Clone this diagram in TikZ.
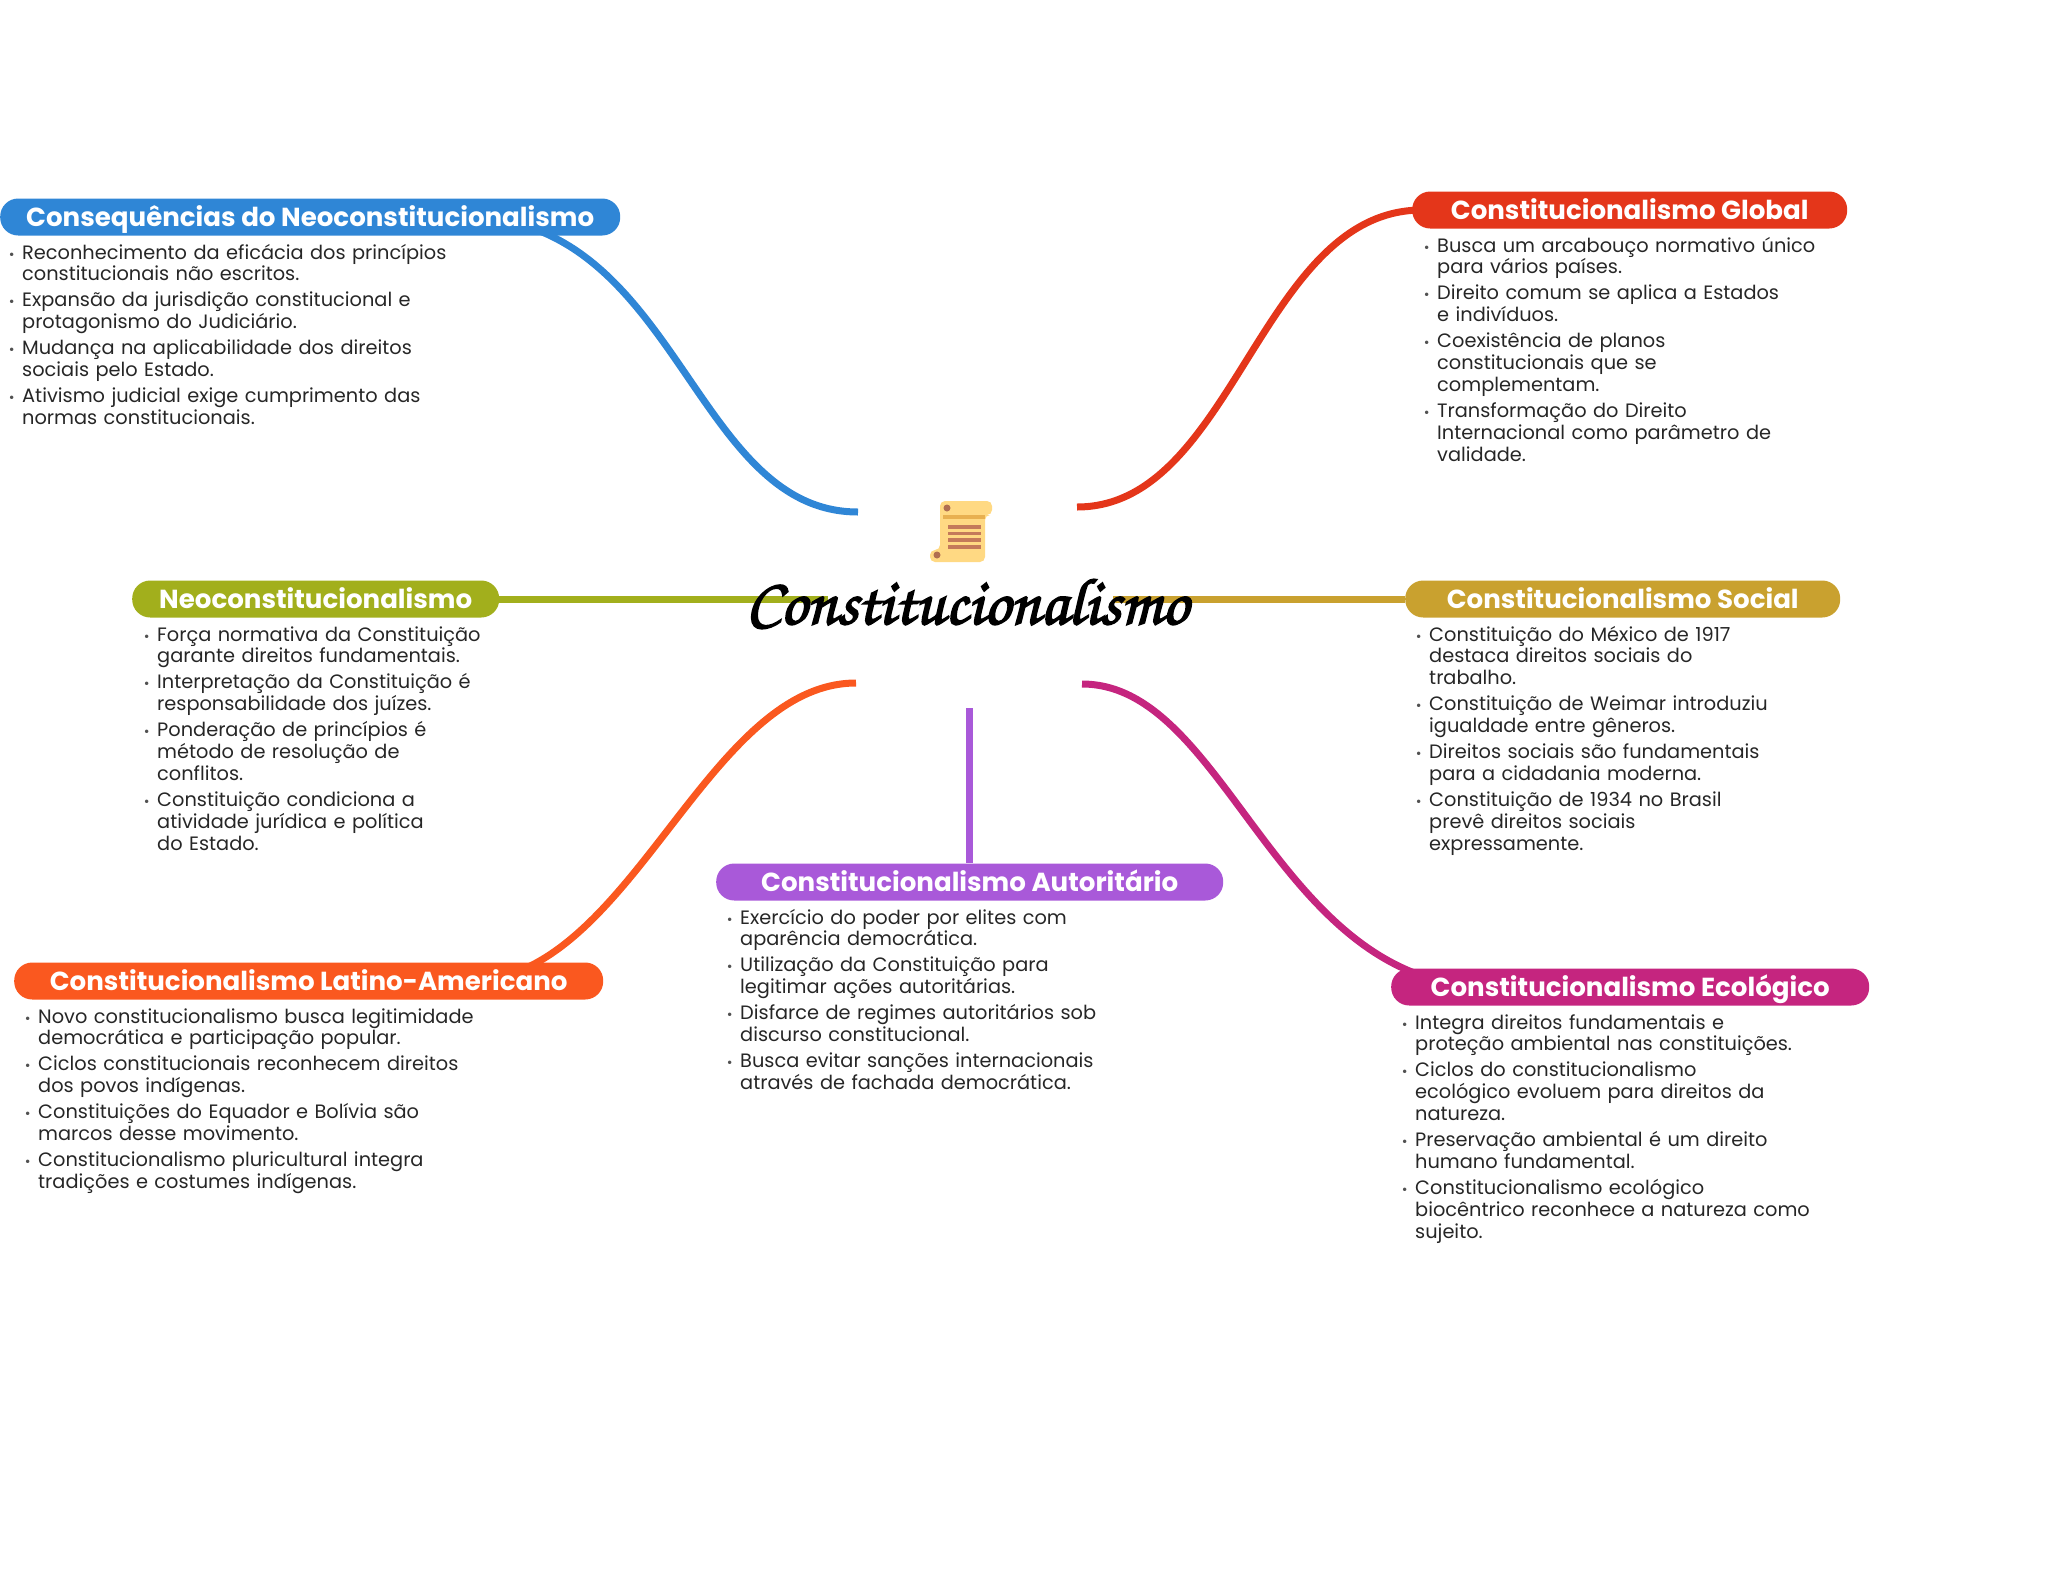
\documentclass[tikz,border=0pt]{standalone}
\usepackage{fontspec}
\usepackage{xcolor}
\usepackage{tikz}
\usetikzlibrary{positioning,calc,backgrounds}
\setmainfont{Poppins}
\newfontfamily\fonteScript[FakeBold=2.5]{TeX Gyre Chorus}
\definecolor{mapBlue}{HTML}{2F86D6}
\definecolor{mapRed}{HTML}{E4361A}
\definecolor{mapOlive}{HTML}{A2AF1C}
\definecolor{mapGold}{HTML}{C9A12F}
\definecolor{mapOrange}{HTML}{FA581F}
\definecolor{mapPurple}{HTML}{A959D9}
\definecolor{mapPink}{HTML}{C5257F}
\definecolor{mapText}{HTML}{262626}
\definecolor{scrollFill}{HTML}{FFD983}
\definecolor{scrollBand}{HTML}{E8B050}
\definecolor{scrollInk}{HTML}{C47A5A}
\newenvironment{pontos}{%
  \begin{list}{\llap{\fontsize{14}{14}\selectfont\color{mapText!80}•}}{%
    \setlength{\leftmargin}{0pt}\setlength{\labelwidth}{0pt}\setlength{\labelsep}{7.5pt}%
    \setlength{\itemsep}{4.3pt}\setlength{\parsep}{0pt}\setlength{\topsep}{0pt}%
    \setlength{\partopsep}{0pt}\setlength{\itemindent}{0pt}}%
}{\end{list}}

\begin{document}
\begin{tikzpicture}[
  x=1pt, y=-1pt,
  pill/.style={rounded corners=18pt, minimum height=37pt, inner sep=0pt, anchor=west,
    text height=24pt, text depth=6pt,
    text=white, font=\fontsize{26.1}{30}\bfseries\selectfont},
  corpo/.style={anchor=north west, inner sep=0pt, text width=640pt, align=left,
    text=mapText, font=\fontsize{19.35}{21.8}\selectfont},
  ramo/.style={line width=7pt},
]
\useasboundingbox (0,0) rectangle (2048,1569);
\foreach \nome/\px/\py/\larg/\cor/\titulo/\tx/\itens in {%
  consq/0/217/620/mapBlue/{Consequências do Neoconstitucionalismo}/22/{%
    \item Reconhecimento da eficácia dos princípios\newline constitucionais não escritos.
    \item Expansão da jurisdição constitucional e\newline protagonismo do Judiciário.
    \item Mudança na aplicabilidade dos direitos\newline sociais pelo Estado.
    \item Ativismo judicial exige cumprimento das\newline normas constitucionais.},
  global/1412/210/435/mapRed/{Constitucionalismo Global}/1437/{%
    \item Busca um arcabouço normativo único\newline para vários países.
    \item Direito comum se aplica a Estados\newline e indivíduos.
    \item Coexistência de planos\newline constitucionais que se\newline complementam.
    \item Transformação do Direito\newline Internacional como parâmetro de\newline validade.},
  neo/132/599/367/mapOlive/{Neoconstitucionalismo}/157/{%
    \item Força normativa da Constituição\newline garante direitos fundamentais.
    \item Interpretação da Constituição é\newline responsabilidade dos juízes.
    \item Ponderação de princípios é\newline método de resolução de\newline conflitos.
    \item Constituição condiciona a\newline atividade jurídica e política\newline do Estado.},
  social/1405/599/435/mapGold/{Constitucionalismo Social}/1429/{%
    \item Constituição do México de 1917\newline destaca direitos sociais do\newline trabalho.
    \item Constituição de Weimar introduziu\newline igualdade entre gêneros.
    \item Direitos sociais são fundamentais\newline para a cidadania moderna.
    \item Constituição de 1934 no Brasil\newline prevê direitos sociais\newline expressamente.},
  latino/14/981/589/mapOrange/{Constitucionalismo Latino-Americano}/38/{%
    \item Novo constitucionalismo busca legitimidade\newline democrática e participação popular.
    \item Ciclos constitucionais reconhecem direitos\newline dos povos indígenas.
    \item Constituições do Equador e Bolívia são\newline marcos desse movimento.
    \item Constitucionalismo pluricultural integra\newline tradições e costumes indígenas.},
  autor/716/882/507/mapPurple/{Constitucionalismo Autoritário}/740/{%
    \item Exercício do poder por elites com\newline aparência democrática.
    \item Utilização da Constituição para\newline legitimar ações autoritárias.
    \item Disfarce de regimes autoritários sob\newline discurso constitucional.
    \item Busca evitar sanções internacionais\newline através de fachada democrática.},
  ecol/1391/987/478/mapPink/{Constitucionalismo Ecológico}/1415/{%
    \item Integra direitos fundamentais e\newline proteção ambiental nas constituições.
    \item Ciclos do constitucionalismo\newline ecológico evoluem para direitos da\newline natureza.
    \item Preservação ambiental é um direito\newline humano fundamental.
    \item Constitucionalismo ecológico\newline biocêntrico reconhece a natureza como\newline sujeito.}%
} {
  \node[pill, fill=\cor, minimum width=\larg pt] (\nome) at (\px,\py) {\titulo};
  \node[corpo] (\nome-txt) at (\tx,\py+20) {\begin{pontos}\itens\end{pontos}};
}
\node[font=\fontsize{66}{70}\fonteScript\selectfont, text=black, inner sep=0pt, anchor=base] (centro) at (967,624) {Constitucionalismo};
\coordinate (c-blue) at (858,512);
\coordinate (c-red) at (1077,507);
\coordinate (c-olive) at (828,599);
\coordinate (c-gold) at (1113,599);
\coordinate (c-orange) at (856,683);
\coordinate (c-purple) at (969,708);
\coordinate (c-pink) at (1082,684);
\begin{scope}[on background layer]
\draw[ramo, mapBlue] (c-blue) .. controls (692,512) and (678,217) .. ($(consq.center)+(155,0)$);
\draw[ramo, mapRed] (c-red) .. controls (1234,507) and (1260,210) .. ($(global.west)+(10,0)$);
\draw[ramo, mapOlive] (neo.east) -- (c-olive);
\draw[ramo, mapGold] (c-gold) -- (social.west);
\draw[ramo, mapOrange] (c-orange) .. controls (705,683) and (630,981) .. ($(latino.west)+(455,0)$);
\draw[ramo, mapPurple] (c-purple) -- (c-purple |- autor.north);
\draw[ramo, mapPink] (c-pink) .. controls (1228,684) and (1276,987) .. ($(ecol.west)+(99,0)$);
\end{scope}
% pergaminho
\fill[scrollFill] (930,562) [rounded corners=5pt] -- (930,550) -- (940,550) -- (940,501) -- (992,501) -- (992,515) -- (985,515) -- (985,562) -- cycle;
\fill[scrollBand] (943,515) rectangle (985,519);
\foreach \yy in {527,533.5,540,547} {
  \draw[scrollInk, line width=3.5pt] (948,\yy) -- (981,\yy);
}
\fill[scrollInk!90!black] (947,508) circle (3.5);
\fill[scrollInk!90!black] (937,555) circle (3.5);
\end{tikzpicture}
\end{document}
